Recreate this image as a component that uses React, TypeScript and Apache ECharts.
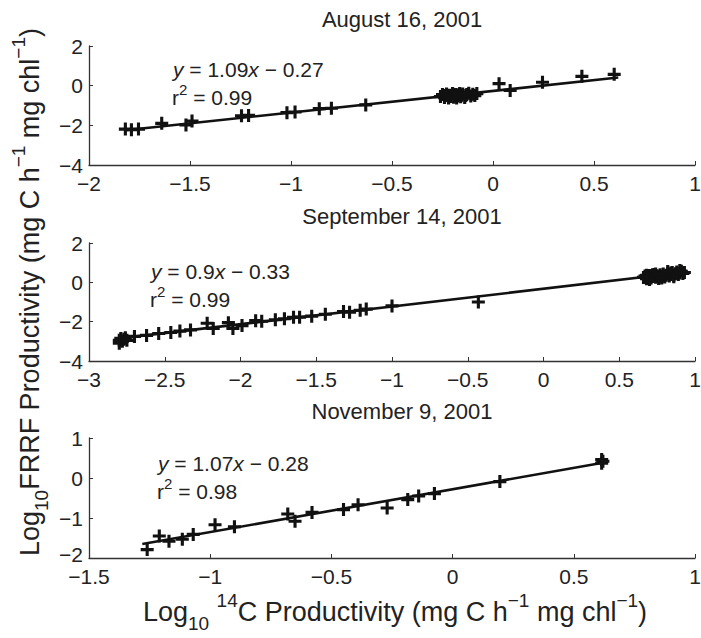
import React, { useEffect, useRef } from "react";
import * as echarts from "echarts";

const FONT = '"Liberation Sans", Arial, Helvetica, sans-serif';
const INK = "#111";

// Panel titles and fit labels
const panelTitles = ["August 16, 2001", "September 14, 2001", "November 9, 2001"];
const fitSlopes = ["1.09", "0.9", "1.07"];
const fitIntercepts = ["0.27", "0.33", "0.28"];
const fitR2 = ["0.99", "0.99", "0.98"];

// Axis ranges
const xMins = [-2, -3, -1.5];
const xMaxs = [1, 1, 1];
const yMins = [-4, -4, -2];
const yMaxs = [2, 2, 1];
const yIntervals = [2, 2, 1];

// August 16, 2001 points [log14C, logFRRF]
const augPoints: number[][] = [
  [-1.82, -2.19], [-1.79, -2.22], [-1.755, -2.19], [-1.64, -1.9], [-1.52, -1.98], [-1.49, -1.78],
  [-1.245, -1.52], [-1.21, -1.5], [-1.02, -1.36], [-0.98, -1.33], [-0.86, -1.16], [-0.8, -1.14],
  [-0.63, -0.97],
  [-0.26, -0.55], [-0.25, -0.45], [-0.24, -0.6], [-0.235, -0.5], [-0.23, -0.42], [-0.22, -0.62],
  [-0.215, -0.48], [-0.21, -0.55], [-0.2, -0.4], [-0.195, -0.58], [-0.19, -0.5], [-0.185, -0.44],
  [-0.18, -0.62], [-0.175, -0.52], [-0.17, -0.46], [-0.165, -0.4], [-0.16, -0.56], [-0.155, -0.48],
  [-0.15, -0.42], [-0.14, -0.6], [-0.135, -0.5], [-0.13, -0.45], [-0.12, -0.38], [-0.11, -0.52],
  [-0.1, -0.43], [-0.09, -0.5], [-0.08, -0.4],
  [0.03, 0.1], [0.085, -0.24], [0.245, 0.17], [0.44, 0.47], [0.6, 0.57],
];
const augFit: number[][] = [[-1.82, -2.25], [0.62, 0.41]];

// September 14, 2001 points
const sepPoints: number[][] = [
  [-2.8, -2.95], [-2.8, -3.1], [-2.79, -2.85], [-2.78, -3.0], [-2.77, -2.9], [-2.76, -2.82], [-2.75, -2.95],
  [-2.7, -2.75], [-2.62, -2.7], [-2.54, -2.6], [-2.46, -2.55], [-2.4, -2.48], [-2.33, -2.42],
  [-2.22, -2.08], [-2.18, -2.35], [-2.08, -2.05], [-2.05, -2.35], [-1.99, -2.2], [-1.9, -1.95],
  [-1.86, -1.98], [-1.77, -1.9], [-1.71, -1.85], [-1.65, -1.78], [-1.61, -1.77], [-1.53, -1.72],
  [-1.44, -1.62], [-1.32, -1.48], [-1.28, -1.52], [-1.21, -1.42], [-1.17, -1.36], [-1.0, -1.2],
  [-0.43, -1.0],
  [0.66, 0.25], [0.67, 0.32], [0.68, 0.18], [0.69, 0.28], [0.7, 0.35], [0.71, 0.22], [0.72, 0.3],
  [0.73, 0.4], [0.74, 0.26], [0.75, 0.33], [0.76, 0.2], [0.77, 0.38], [0.78, 0.3], [0.79, 0.42],
  [0.8, 0.27], [0.81, 0.36], [0.82, 0.45], [0.83, 0.32], [0.84, 0.4], [0.85, 0.5], [0.86, 0.35],
  [0.87, 0.44], [0.88, 0.52], [0.89, 0.4], [0.9, 0.48], [0.91, 0.56], [0.92, 0.45], [0.72, 0.38],
  [0.76, 0.3], [0.8, 0.34], [0.84, 0.47], [0.88, 0.46], [0.7, 0.15], [0.74, 0.42], [0.78, 0.22],
  [0.82, 0.55], [0.86, 0.28], [0.9, 0.6], [0.93, 0.5], [0.68, 0.36],
];
const sepFit: number[][] = [[-2.8, -2.85], [0.93, 0.51]];

// November 9, 2001 points
const novPoints: number[][] = [
  [-1.26, -1.79], [-1.21, -1.45], [-1.17, -1.58], [-1.115, -1.53], [-1.07, -1.41], [-0.98, -1.17],
  [-0.9, -1.22], [-0.68, -0.9], [-0.65, -1.08], [-0.58, -0.86], [-0.45, -0.79], [-0.39, -0.67],
  [-0.27, -0.75], [-0.185, -0.54], [-0.14, -0.45], [-0.075, -0.39], [0.195, -0.09],
  [0.615, 0.46], [0.615, 0.37], [0.62, 0.42],
];
const novFit: number[][] = [[-1.28, -1.65], [0.62, 0.38]];

const panelPoints = [augPoints, sepPoints, novPoints];
const panelFits = [augFit, sepFit, novFit];

// layout
const gridTops = [46, 243, 438];
const gridHeights = [119, 118, 120];
const GRID_LEFT = 89;
const GRID_W = 606;
const TITLE_X = 402;
const titleYs = [19, 216, 411];
const eqPos = [
  [173, 69],
  [151, 271],
  [158, 463],
];
const EQ_GAP = 28;

const PLUS = "path://M3.8,0H6.2V3.8H10V6.2H6.2V10H3.8V6.2H0V3.8H3.8Z";

const fmt = (v: number) => (v < 0 ? "\u2212" + String(Math.abs(v)) : String(v));

export default function App() {
  const ref = useRef<HTMLDivElement>(null);
  useEffect(() => {
    if (!ref.current) return;
    const chart = echarts.init(ref.current, null, { renderer: "svg" });

    const axisBase = {
      type: "value" as const,
      axisLine: { show: true, onZero: false, lineStyle: { color: "#333", width: 1.3 } },
      axisTick: { show: true, inside: true, length: 4, lineStyle: { color: "#333", width: 1 } },
      splitLine: { show: false },
    };
    const labelBase = {
      fontSize: 21,
      lineHeight: 18,
      fontFamily: FONT,
      color: "#222",
      formatter: fmt,
      showMinLabel: true,
      showMaxLabel: true,
    };

    const grids = gridTops.map((t, i) => ({
      left: GRID_LEFT,
      width: GRID_W,
      top: t,
      height: gridHeights[i],
      containLabel: false,
      outerBoundsMode: "none",
    }));

    const xAxes = [0, 1, 2].map((i) => ({
      ...axisBase,
      axisLabel: { ...labelBase, margin: 9 },
      gridIndex: i,
      min: xMins[i],
      max: xMaxs[i],
      interval: 0.5,
    }));
    const yAxes = [0, 1, 2].map((i) => ({
      ...axisBase,
      axisLabel: {
        ...labelBase,
        margin: 6,
        formatter: (v: number) => (i === 2 && v === yMins[i] ? `{lo|${fmt(v)}}` : fmt(v)),
        rich: {
          lo: { fontSize: 21, lineHeight: 18, fontFamily: FONT, color: "#222", padding: [0, 0, 8, 0] },
        },
      },
      gridIndex: i,
      min: yMins[i],
      max: yMaxs[i],
      interval: yIntervals[i],
    }));

    const series: any[] = [];
    [0, 1, 2].forEach((i) => {
      series.push({
        type: "line",
        xAxisIndex: i,
        yAxisIndex: i,
        data: panelFits[i],
        showSymbol: false,
        symbol: "none",
        lineStyle: { color: INK, width: 2.6 },
        z: 2,
      });
      series.push({
        type: "scatter",
        xAxisIndex: i,
        yAxisIndex: i,
        data: panelPoints[i],
        symbol: PLUS,
        symbolSize: 13,
        itemStyle: { color: INK, opacity: 1 },
        z: 3,
      });
    });

    const textBase = { fill: "#222", fontFamily: FONT };
    const graphics: any[] = [];
    [0, 1, 2].forEach((i) => {
      graphics.push({
        type: "text",
        x: TITLE_X,
        y: titleYs[i],
        style: {
          ...textBase,
          text: panelTitles[i],
          fontSize: 22,
          align: "center",
          verticalAlign: "middle",
          textAlign: "center",
          textVerticalAlign: "middle",
        },
      });
      graphics.push({
        type: "text",
        x: eqPos[i][0],
        y: eqPos[i][1],
        style: {
          ...textBase,
          text: `{i|y} = ${fitSlopes[i]}{i|x} \u2212 ${fitIntercepts[i]}`,
          fontSize: 21,
          lineHeight: 26,
          align: "left",
          verticalAlign: "middle",
          textAlign: "left",
          textVerticalAlign: "middle",
          rich: {
            i: { fontStyle: "italic", fontSize: 21, fontFamily: FONT, fill: "#222", lineHeight: 26 },
          },
        },
      });
      graphics.push({
        type: "text",
        x: eqPos[i][0] - 1,
        y: eqPos[i][1] + EQ_GAP,
        style: {
          ...textBase,
          text: `r{sup|2} = ${fitR2[i]}`,
          fontSize: 21,
          lineHeight: 30,
          align: "left",
          verticalAlign: "middle",
          textAlign: "left",
          textVerticalAlign: "middle",
          rich: {
            sup: { fontSize: 15, fontFamily: FONT, fill: "#222", verticalAlign: "top", lineHeight: 30 },
          },
        },
      });
    });

    const richLabel = {
      sub: { fontSize: 19, fontFamily: FONT, fill: "#222", verticalAlign: "bottom", lineHeight: 42 },
      sup: { fontSize: 19, fontFamily: FONT, fill: "#222", verticalAlign: "top", lineHeight: 42 },
    };

    graphics.push({
      type: "text",
      x: 30,
      y: 292,
      rotation: Math.PI / 2,
      style: {
        ...textBase,
        text: "Log{sub|10}FRRF Productivity (mg C h{sup|\u22121} mg chl{sup|\u22121})",
        fontSize: 27,
        lineHeight: 42,
        align: "center",
        verticalAlign: "middle",
        textAlign: "center",
        textVerticalAlign: "middle",
        rich: richLabel,
      },
    });
    graphics.push({
      type: "text",
      x: 395,
      y: 612,
      style: {
        ...textBase,
        text: "Log{sub|10} {sup|14}C Productivity (mg C h{sup|\u22121} mg chl{sup|\u22121})",
        fontSize: 27,
        lineHeight: 42,
        align: "center",
        verticalAlign: "middle",
        textAlign: "center",
        textVerticalAlign: "middle",
        rich: richLabel,
      },
    });

    chart.setOption({
      animation: false,
      backgroundColor: "#fff",
      grid: grids,
      xAxis: xAxes,
      yAxis: yAxes,
      series,
      graphic: graphics,
    });
    return () => chart.dispose();
  }, []);
  return <div ref={ref} style={{ width: 701, height: 638, position: "absolute", left: 0, top: 0 }} />;
}
